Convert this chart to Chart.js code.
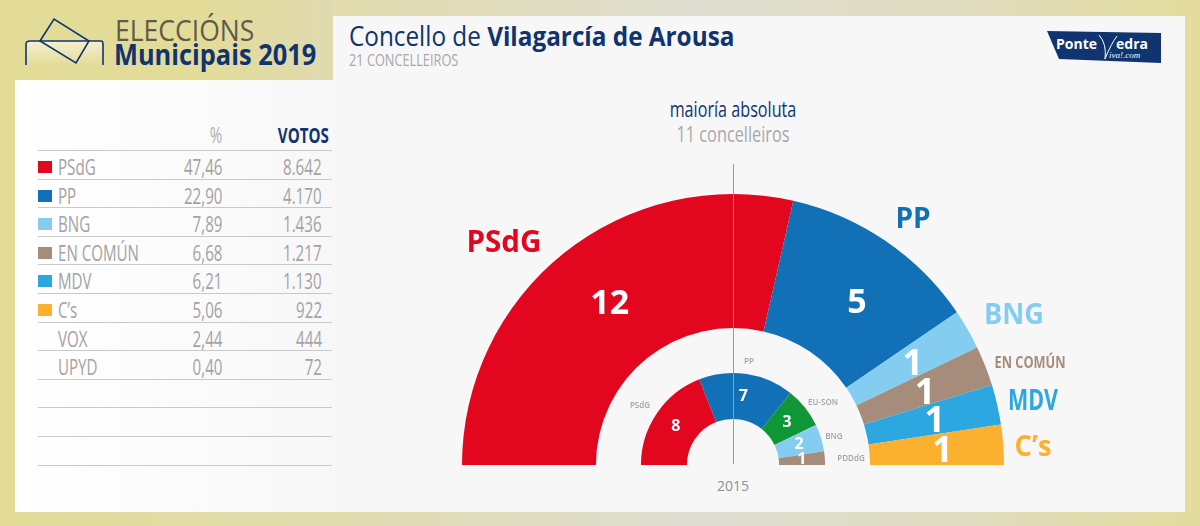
<!DOCTYPE html>
<html lang="gl">
<head>
<meta charset="UTF-8">
<title>Eleccións Municipais 2019 - Vilagarcía de Arousa</title>
<script src="https://cdn.jsdelivr.net/npm/chart.js"></script>
<style>
    html, body { margin: 0; padding: 0; }
    body {
        position: relative; width: 1200px; height: 526px; overflow: hidden;
        font-family: "Open Sans", sans-serif;
        background: linear-gradient(90deg, #e3dc98 0%, #e2dcb0 30%, #dedcd0 58%, #e0dcc0 80%, #e4dc9c 100%);
    }
    .abs { position: absolute; white-space: nowrap; }
    #headerBg { left: 0; top: 0; width: 333px; height: 80px; background: linear-gradient(90deg, #e3dc98 60%, #e0dab0 100%); }
    #leftPanel { left: 15px; top: 80px; width: 330px; height: 432px; background: linear-gradient(90deg, #fff, #f7f7f8); }
    #mainPanel { left: 333px; top: 16px; width: 852px; height: 496px; background: #f7f7f8; }
    #elec { left: 115px; top: 10px; font-size: 29px; color: #5f5b48; transform: scaleX(.915); transform-origin: left; }
    #muni { left: 114px; top: 34px; font-size: 29px; font-weight: 700; color: #10346f; transform: scaleX(.875); transform-origin: left; }
    #title { left: 349px; top: 17px; font-size: 27px; color: #10346f; transform: scaleX(.9); transform-origin: left; }
    #title b { font-weight: 700; }
    #sub { left: 349px; top: 48px; font-size: 17px; color: #a8a8a8; transform: scaleX(.75); transform-origin: left; }
    #maj1 { left: 583px; width: 300px; text-align: center; top: 95px; font-size: 21px; color: #10346f; transform: scaleX(.77); }
    #maj2 { left: 583px; width: 300px; text-align: center; top: 118px; font-size: 22px; color: #a8a8a8; transform: scaleX(.74); }
    #year { left: 683px; width: 100px; text-align: center; top: 476px; font-size: 14px; color: #8f8f8f; }
    #axis { left: 733px; top: 164px; width: 1px; height: 300px; background: #9a9a9a; }
    #logo { left: 1047px; top: 30px; }
    #chart { position: absolute; left: 0; top: 0; }
    .hcell { top: 121px; font-size: 21px; color: #b0b0b0; transform: scaleX(.72); transform-origin: right; }
    .rule { left: 38px; width: 294px; height: 1px; background: #c9c9c9; }
    .swatch { left: 38px; width: 14px; height: 12px; }
    .cell { font-size: 21px; color: #a3a3a3; transform: scaleX(.72); }
    .name { transform-origin: left; }
    .num { transform-origin: right; }
</style>
</head>
<body>
<div class="abs" id="headerBg"></div>
<div class="abs" id="leftPanel"></div>
<div class="abs" id="mainPanel"></div>

<svg class="abs" style="left:24px;top:16px" width="82" height="52" fill="none" stroke="#10346f" stroke-width="1.6">
    <defs>
        <linearGradient id="boxFill" x1="0" y1="0" x2="0" y2="1">
            <stop offset="0" stop-color="#f4f0d0"/>
            <stop offset="1" stop-color="#e3dc98"/>
        </linearGradient>
    </defs>
    <path d="M2 49 V 28 Q 2 25 6 25 H 77 Q 79 25 79 28 V 49" fill="url(#boxFill)" stroke="none"/>
    <path d="M2 49 V 28 Q 2 25 6 25 H 77 Q 79 25 79 28 V 49"/>
    <path d="M16 25 L30 3 L65 25 L52 47 Z"/>
</svg>
<div class="abs" id="elec">ELECCIÓNS</div>
<div class="abs" id="muni">Municipais 2019</div>

<div class="abs" id="title">Concello de <b>Vilagarcía de Arousa</b></div>
<div class="abs" id="sub">21 CONCELLEIROS</div>

<svg class="abs" id="logo" width="115" height="34">
    <path d="M0 1 L114 3 V33 L12 29 Z" fill="#10346f"/>
    <text x="9" y="19" font-family="Open Sans" font-weight="700" font-size="14" fill="#fff">Ponte</text>
    <path d="M52 5 Q60 14 58 29 Q64 14 70 6" fill="none" stroke="#fff" stroke-width="1"/>
    <text x="69" y="19" font-family="Open Sans" font-weight="700" font-size="14" fill="#fff">edra</text>
    <text x="62" y="28" font-family="Liberation Serif" font-style="italic" font-size="9" fill="#fff">iva!.com</text>
</svg>

<div class="abs" id="maj1">maioría absoluta</div>
<div class="abs" id="maj2">11 concelleiros</div>
<div class="abs" id="year">2015</div>

<canvas id="chart" width="1200" height="526"></canvas>
<div class="abs" id="axis"></div>

<script>
    // table on the left
    const tableParties = ['PSdG', 'PP', 'BNG', 'EN COMÚN', 'MDV', 'C’s', 'VOX', 'UPYD', '', '', ''];
    const tablePct = ['47,46', '22,90', '7,89', '6,68', '6,21', '5,06', '2,44', '0,40', '', '', ''];
    const tableVotes = ['8.642', '4.170', '1.436', '1.217', '1.130', '922', '444', '72', '', '', ''];
    const swatchColors = ['#e2071e', '#1170b6', '#85cdf0', '#a68d7b', '#2ca7df', '#fbb12f'];

    // seats, outer ring
    const parties2019 = ['PSdG', 'PP', 'BNG', 'EN COMÚN', 'MDV', 'C’s'];
    const seats2019 = [12, 5, 1, 1, 1, 1];
    const colors2019 = ['#e2071e', '#1170b6', '#85cdf0', '#a68d7b', '#2ca7df', '#fbb12f'];

    // seats, inner ring
    const parties2015 = ['PSdG', 'PP', 'EU-SON', 'BNG', 'PDDdG'];
    const seats2015 = [8, 7, 3, 2, 1];
    const colors2015 = ['#e2071e', '#1170b6', '#0f9637', '#85cdf0', '#a68d7b'];

    // where the party names sit around the rings: x, y, font size, max width
    const outerNamePos = [[504, 243, 30, 75], [913, 220, 28, 40], [1014, 316, 29, 60], [1030, 363, 16, 71], [1033, 402, 28, 50], [1033, 448, 28, 37]];
    const innerNamePos = [[640, 406], [749, 362], [823, 403], [834, 437], [851, 459]];
    // small shifts of the big seat numbers off the arc centres
    const seatShift2019 = [[4, -1], [9, 7], [3, 2], [2, 3], [3, 2], [6, 2]];

    function addDiv(cls, style, text) {
        const d = document.createElement('div');
        d.className = 'abs ' + cls;
        d.style.cssText = style;
        d.textContent = text;
        document.body.insertBefore(d, document.getElementById('chart'));
    }

    addDiv('hcell', 'right:978px', '%');
    addDiv('hcell', 'right:871px;color:#10346f;font-weight:700', 'VOTOS');
    addDiv('rule', 'top:150px', '');
    tableParties.forEach((name, i) => {
        const y = 150 + i * 28.6;
        addDiv('rule', `top:${Math.round(y + 28.6)}px`, '');
        if (!name) return;
        if (swatchColors[i]) addDiv('swatch', `top:${Math.round(y + 11)}px;background:${swatchColors[i]}`, '');
        const top = Math.round(y + 3);
        addDiv('cell name', `left:58px;top:${top}px`, name);
        addDiv('cell num', `right:${1200 - 222}px;top:${top}px`, tablePct[i]);
        addDiv('cell num', `right:${1200 - 322}px;top:${top}px`, tableVotes[i]);
    });

    const ringLabels = {
        id: 'ringLabels',
        afterDatasetsDraw(chart) {
            const ctx = chart.ctx;
            const area = chart.chartArea;
            ctx.save();
            ctx.textAlign = 'center';
            ctx.textBaseline = 'middle';

            // seat numbers; the small 2015 ones get cut at the base line
            ctx.beginPath();
            ctx.rect(0, 0, 1200, area.bottom);
            ctx.clip();
            ctx.fillStyle = '#fff';
            chart.getDatasetMeta(0).data.forEach((arc, i) => {
                const p = arc.getCenterPoint();
                ctx.font = `700 ${seats2019[i] > 1 ? 34 : 36}px "Open Sans"`;
                ctx.fillText(seats2019[i], p.x + seatShift2019[i][0], p.y + seatShift2019[i][1]);
            });
            chart.getDatasetMeta(2).data.forEach((arc, i) => {
                const p = arc.getCenterPoint();
                ctx.font = '700 16px "Open Sans"';
                ctx.fillText(seats2015[i], p.x, p.y);
            });
            ctx.restore();

            ctx.save();
            ctx.textAlign = 'center';
            ctx.textBaseline = 'middle';
            parties2019.forEach((name, i) => {
                const [x, y, size, maxW] = outerNamePos[i];
                ctx.fillStyle = colors2019[i];
                ctx.font = `700 ${size}px "Open Sans"`;
                ctx.fillText(name, x, y, maxW);
            });
            ctx.fillStyle = '#a3a3a3';
            ctx.font = '600 8px "Open Sans"';
            parties2015.forEach((name, i) => {
                const [x, y] = innerNamePos[i];
                ctx.fillText(name, x, y);
            });
            ctx.restore();
        }
    };

    new Chart(document.getElementById('chart'), {
        type: 'doughnut',
        data: {
            labels: parties2019,
            datasets: [
                { data: seats2019, backgroundColor: colors2019, borderWidth: 0, weight: 134 },
                { data: [1], backgroundColor: 'transparent', borderWidth: 0, weight: 45 },
                { data: seats2015, backgroundColor: colors2015, borderWidth: 0, weight: 46 }
            ]
        },
        options: {
            responsive: false,
            animation: false,
            rotation: -90,
            circumference: 180,
            cutout: '17%',
            layout: { padding: { left: 462, right: 196, top: 194, bottom: 61 } },
            plugins: { legend: { display: false }, tooltip: { enabled: false } }
        },
        plugins: [ringLabels]
    });
</script>
</body>
</html>
